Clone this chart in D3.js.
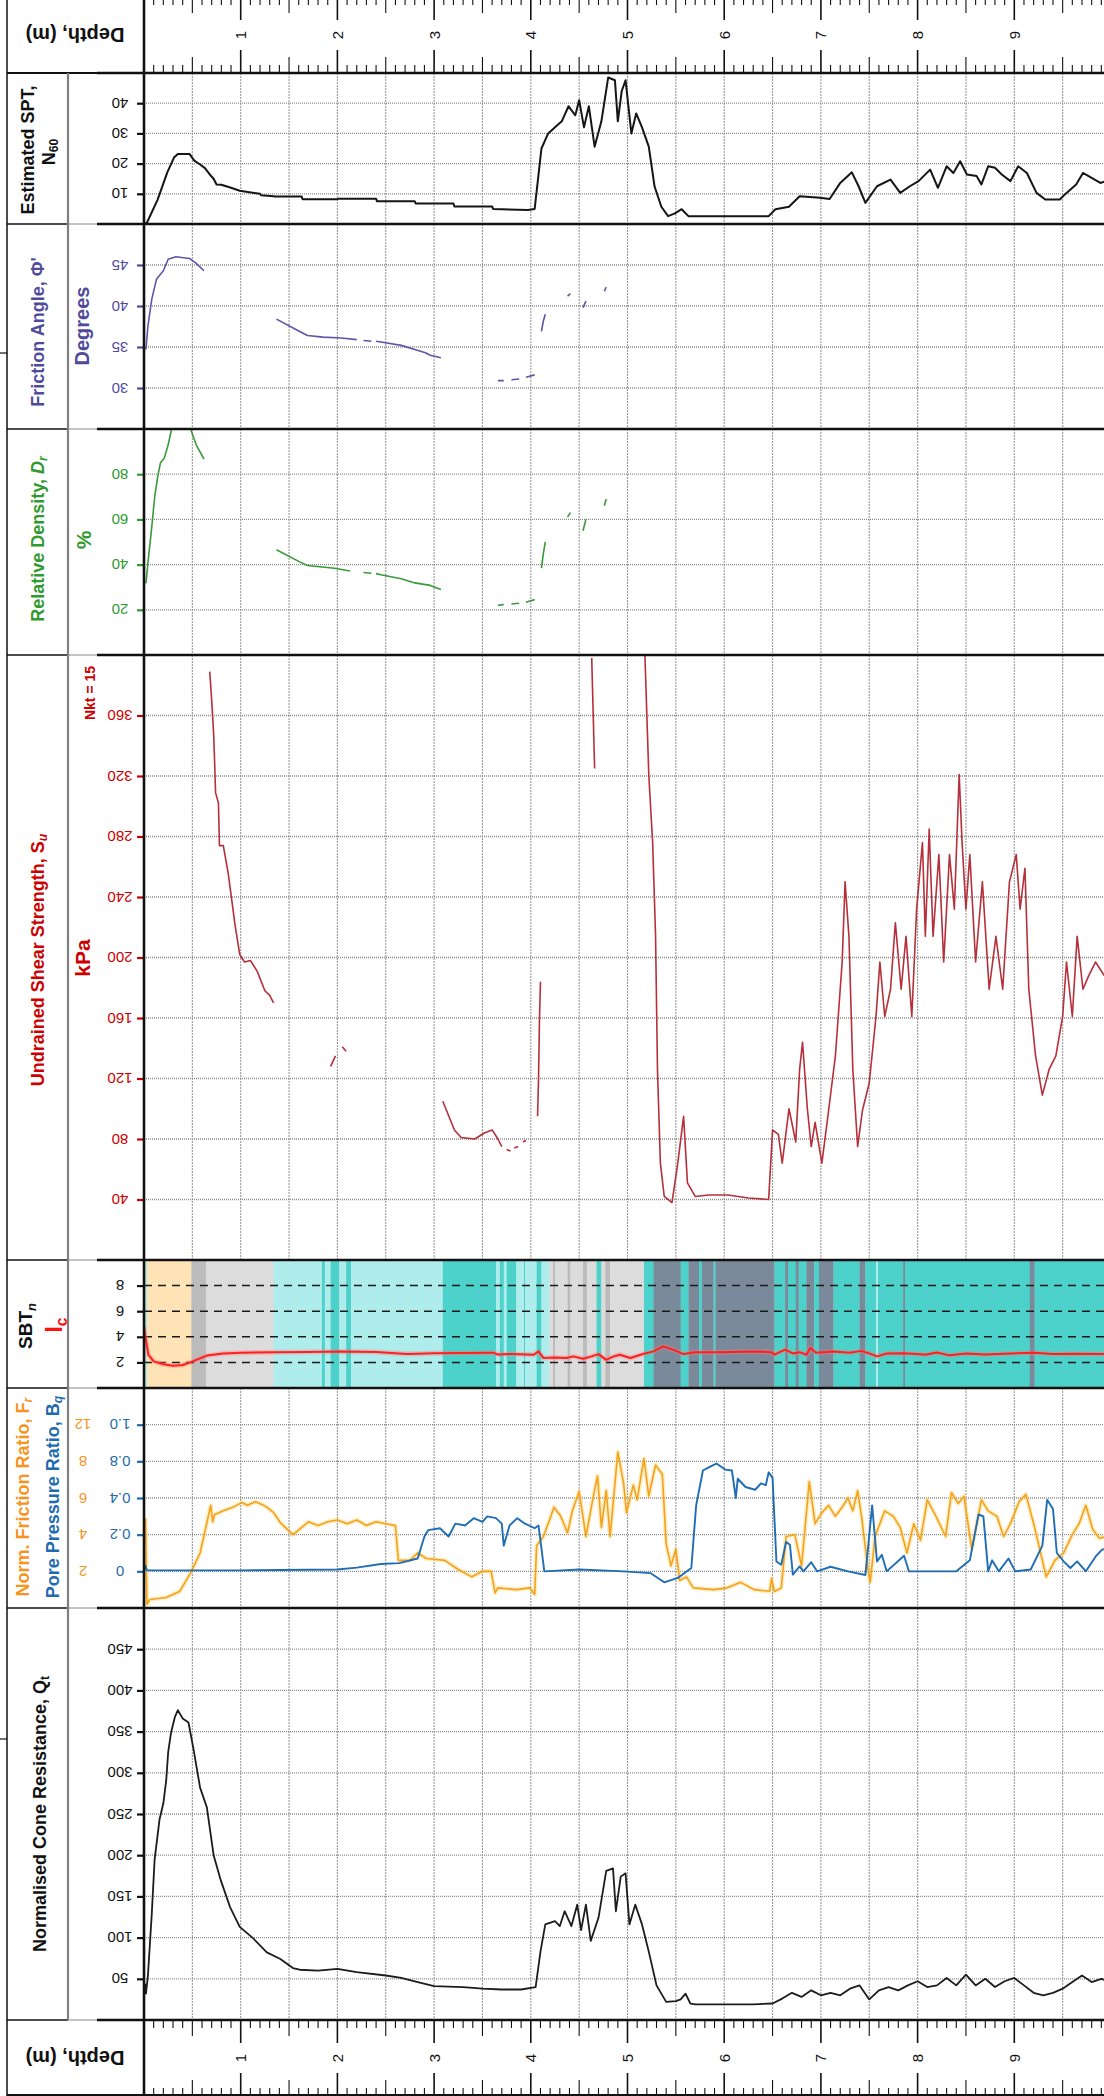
<!DOCTYPE html>
<html>
<head>
<meta charset="utf-8">
<script src="https://cdn.jsdelivr.net/npm/d3@7"></script>
<style>
  body { margin: 0; background: #fff; }
  svg { display: block; }
  text { font-family: "Liberation Sans", Arial, Helvetica, sans-serif; }
</style>
</head>
<body>
<svg id="chart" width="1104" height="2096"></svg>
<script>
// ---------------- CPT log data (depth in metres) ----------------

// Estimated SPT N60
const sptDepth = [0.0,0.03,0.14,0.24,0.31,0.35,0.47,0.52,0.58,0.63,0.68,0.72,0.75,0.8,0.9,0.99,1.2,1.21,1.34,1.35,1.63,1.64,2.0,2.01,2.4,2.41,2.8,2.81,3.2,3.21,3.6,3.61,3.97,4.04,4.11,4.18,4.25,4.32,4.39,4.46,4.5,4.55,4.6,4.66,4.73,4.8,4.87,4.9,4.94,4.98,5.04,5.09,5.15,5.22,5.28,5.35,5.42,5.49,5.56,5.63,5.7,6.46,6.53,6.67,6.78,6.99,7.09,7.2,7.32,7.39,7.46,7.58,7.72,7.82,7.92,8.01,8.13,8.21,8.3,8.37,8.44,8.51,8.61,8.66,8.73,8.8,8.87,8.96,9.04,9.13,9.23,9.32,9.47,9.54,9.64,9.71,9.8,9.89,9.95];
const sptN     = [0,0.4,8,17,22,23.2,23.2,21,19.7,18.5,16.4,15,13.1,13,12,11,10,9.5,9.2,9.1,9.1,8.2,8.2,8.4,8.4,7.5,7.5,6.8,6.8,5.8,5.8,5.0,4.6,5,25,30,32,34,39,36,41,32,39,25.6,34,48.5,47.6,34,44,47.6,30,36.6,32,25.6,12.4,5.7,2.6,3.5,4.9,2.6,2.6,2.6,4.9,5.7,9.2,8.7,8.3,13.6,17.1,12.5,7.0,12.5,14.7,10.3,12.5,14.2,18,12,19.1,16.9,20.8,16.4,15.9,13.1,19.1,18.6,16.4,14.2,19.1,16.9,10.3,8.1,8.1,10.3,13.1,16.9,15.3,13.6,14.2];

// Friction angle (degrees); null breaks the trace
const phiDepth = [0.02,0.04,0.08,0.13,0.2,0.25,0.33,0.47,0.54,0.62,0.63, 1.37,1.61,1.69,1.85,2.04,2.2,2.22, 2.27,2.35,2.37, 2.4,2.45,2.66,2.8,2.91,2.96,3.07,3.08, 3.66,3.72,3.73, 3.8,3.88,3.89, 3.95,4.04,4.05, 4.11,4.13,4.15,4.16, 4.38,4.41,4.42, 4.54,4.57,4.58, 4.76,4.78];
const phiDeg   = [34.7,37.5,40.8,43.3,44.3,45.7,46.0,45.8,45.2,44.3,null, 38.4,36.9,36.4,36.2,36.1,35.9,null, 35.8,35.7,null, 35.7,35.6,35.2,34.7,34.3,34.0,33.7,null, 30.9,30.9,null, 31.0,31.1,null, 31.3,31.6,null, 36.9,38.2,39.0,null, 41.2,41.5,null, 39.8,40.6,null, 41.8,42.3];

// Relative density (%)
const drDepth = [0.02,0.04,0.08,0.11,0.14,0.17,0.21,0.25,0.28,0.3,0.4, 0.48,0.49,0.54,0.62,0.63, 1.37,1.61,1.69,1.97,2.13,2.2, 2.27,2.35,2.37, 2.4,2.45,2.66,2.8,2.96,3.07,3.08, 3.66,3.72,3.73, 3.8,3.88,3.89, 3.95,4.04,4.05, 4.11,4.13,4.15,4.16, 4.38,4.41,4.42, 4.54,4.57,4.58, 4.76,4.78];
const drPct   = [31.7,40.5,56.5,69.7,78.5,85,87.2,93,99,103,null, 103,99,93,86.7,null, 46.6,41.2,39.6,38.4,37.2,null, 36.5,36.2,null, 36,35.5,33.7,31.9,30.8,29,null, 22,22.3,null, 22.6,22.9,null, 23.3,24.5,null, 38.4,45,50,null, 61,63,null, 55,60,null, 66,69];

// Undrained shear strength (kPa), Nkt = 15
const suDepth = [0.68,0.7,0.72,0.73,0.74,0.77,0.78,0.82,0.87,0.92,0.94,0.99,1.04,1.1,1.17,1.25,1.3,1.34,1.35, 1.93,1.98,1.99, 2.05,2.09,2.1, 3.09,3.21,3.28,3.42,3.52,3.6,3.66,3.7,3.71, 3.75,3.79,3.8, 3.83,3.87,3.88, 3.92,3.95,3.96, 4.07,4.08,4.09,4.1,4.11, 4.63,4.66,4.67, 5.18,5.22,5.26,5.29,5.31,5.34,5.38,5.46,5.52,5.58,5.62,5.7,5.84,6.04,6.25,6.46,6.5,6.56,6.6,6.67,6.74,6.78,6.81,6.86,6.9,6.94,7.01,7.08,7.15,7.22,7.25,7.29,7.33,7.38,7.43,7.5,7.57,7.61,7.66,7.72,7.77,7.83,7.88,7.94,7.99,8.05,8.08,8.12,8.16,8.22,8.27,8.33,8.38,8.43,8.46,8.5,8.54,8.6,8.67,8.74,8.81,8.88,8.95,9.02,9.06,9.11,9.15,9.22,9.29,9.36,9.43,9.5,9.54,9.6,9.65,9.71,9.77,9.84,9.93];
const suKPa   = [389,370,348,330,309,302,274,274,256,232,222,202,197,198,191,178,175,170,null, 128,135,null, 141,138,null, 105,86,81,80,84,86,80,75,null, 73,72,null, 74,75,null, 78,79,null, 95,120,160,184,null, 398,325,null, 400,321,276,215,126,64,42,38,64,95,51,42,43,43,41,40,86,83,64,100,78,126,144,100,75,91,64,99,135,197,250,214,126,75,99,117,161,197,161,179,223,179,214,161,232,276,214,285,214,268,197,268,232,321,276,232,268,197,250,179,214,179,250,268,232,259,179,135,109,126,135,161,197,161,214,179,188,197,188];

// Soil behaviour type zones: each band runs from its start depth to the next one
const sbtStart = [0.0,0.03,0.49,0.64,1.34,1.84,1.87,1.93,2.02,2.09,2.14,3.09,3.64,3.68,3.72,3.75,3.85,3.93,3.94,4.06,4.11,4.19,4.23,4.25,4.38,4.41,4.54,4.58,4.68,4.73,4.77,4.82,5.17,5.27,5.55,5.63,5.74,5.77,5.89,5.91,6.52,6.63,6.66,6.74,6.77,6.85,6.93,6.98,7.13,7.40,7.46,7.57,7.59,7.85,7.87,9.16,9.21,10.5];
const sbtZone  = [4,7,6,5,4,3,4,3,4,3,4,3,4,3,4,3,4,3,4,3,4,5,6,5,6,5,6,5,3,5,6,5,3,2,3,2,3,2,3,2,3,2,3,2,3,2,3,2,3,2,3,4,3,2,3,2,3];

// Soil behaviour type index Ic
const icDepth = [0.0,0.01,0.045,0.1,0.2,0.3,0.4,0.48,0.56,0.65,0.82,1.0,1.34,1.7,2.03,2.4,2.72,3.0,3.3,3.61,3.66,3.8,4.03,4.08,4.13,4.25,4.37,4.44,4.54,4.62,4.7,4.78,4.85,4.92,5.03,5.16,5.27,5.37,5.47,5.58,5.7,5.96,6.3,6.49,6.52,6.63,6.71,6.78,6.85,6.89,6.95,7.13,7.3,7.42,7.5,7.58,7.68,7.85,8.0,8.08,8.2,8.33,8.5,8.7,8.9,9.2,9.4,9.6,9.93];
const icVal   = [4.8,4.2,2.6,2.08,1.85,1.74,1.8,2.0,2.25,2.53,2.7,2.76,2.8,2.82,2.86,2.82,2.65,2.72,2.74,2.76,2.62,2.66,2.6,2.86,2.35,2.38,2.35,2.47,2.29,2.45,2.65,2.2,2.45,2.6,2.35,2.65,2.86,3.25,3.0,2.65,2.8,2.8,2.86,2.8,2.6,3.0,2.7,2.8,2.6,3.12,2.75,2.86,2.75,2.9,2.7,2.47,2.7,2.72,2.65,2.6,2.78,2.55,2.7,2.62,2.68,2.75,2.65,2.68,2.65];

// Normalised friction ratio Fr
const frDepth = [0.015,0.03,0.06,0.23,0.37,0.49,0.58,0.65,0.69,0.71,0.73,0.82,0.92,1.01,1.07,1.15,1.22,1.27,1.34,1.41,1.48,1.54,1.61,1.7,1.8,1.9,2.0,2.1,2.2,2.3,2.4,2.5,2.6,2.63,2.75,2.83,2.92,3.11,3.25,3.39,3.5,3.59,3.63,3.66,3.85,3.99,4.04,4.06,4.13,4.2,4.24,4.31,4.38,4.43,4.5,4.57,4.64,4.69,4.73,4.78,4.82,4.9,4.96,4.99,5.06,5.1,5.17,5.22,5.29,5.36,5.4,5.45,5.5,5.54,5.61,5.68,5.89,6.03,6.17,6.31,6.47,6.49,6.52,6.59,6.64,6.73,6.8,6.88,6.94,7.01,7.08,7.15,7.22,7.28,7.33,7.38,7.42,7.49,7.51,7.56,7.66,7.75,7.82,7.89,7.96,8.03,8.1,8.19,8.29,8.35,8.42,8.48,8.56,8.66,8.73,8.82,8.89,8.96,9.05,9.12,9.21,9.33,9.42,9.51,9.6,9.67,9.74,9.81,9.88,9.95];
const frVal   = [4.9,0.2,0.46,0.57,0.91,2.0,3.0,4.65,5.6,4.7,5.1,5.3,5.5,5.75,5.6,5.8,5.65,5.5,5.2,4.65,4.3,4.0,4.3,4.7,4.5,4.7,4.8,4.6,4.8,4.5,4.7,4.6,4.5,2.6,2.6,3.0,2.7,2.6,2.1,1.7,2.0,2.0,0.82,1.1,1.0,1.1,0.74,3.4,3.9,4.9,5.5,5.0,4.1,5.3,6.35,3.9,5.9,7.2,4.4,6.4,3.9,9.0,6.8,5.2,6.7,5.9,8.3,6.1,7.8,7.3,3.5,2.3,3.2,1.5,1.7,1.1,1.0,1.1,1.4,1.0,0.91,1.6,0.9,1.1,3.9,4.0,2.3,6.9,4.6,5.2,5.6,5.0,5.5,6.0,5.3,6.4,5.0,2.0,1.4,3.9,5.3,5.0,4.4,3.0,4.6,3.7,5.9,5.0,3.9,6.3,5.7,6.1,3.2,5.9,5.3,5.0,3.9,4.6,5.8,6.2,4.4,1.7,2.6,3.0,4.0,4.6,5.6,4.3,3.8,3.9];

// Pore pressure ratio Bq
const bqDepth = [0.0,0.015,0.03,1.0,2.0,2.2,2.45,2.64,2.83,2.9,2.94,3.06,3.15,3.22,3.32,3.41,3.5,3.55,3.64,3.7,3.72,3.78,3.86,3.94,4.04,4.08,4.14,4.5,4.96,5.24,5.38,5.52,5.66,5.71,5.78,5.85,5.92,6.01,6.08,6.12,6.14,6.22,6.32,6.38,6.43,6.46,6.5,6.54,6.59,6.64,6.68,6.71,6.78,6.82,6.9,6.96,7.1,7.28,7.46,7.53,7.58,7.63,7.68,7.86,7.91,8.12,8.4,8.54,8.63,8.68,8.73,8.77,8.84,8.94,9.01,9.17,9.29,9.34,9.4,9.44,9.51,9.58,9.65,9.74,9.84,9.91,9.95];
const bqVal   = [0.0,0.03,0.005,0.005,0.01,0.02,0.04,0.045,0.07,0.19,0.225,0.235,0.19,0.26,0.25,0.29,0.27,0.3,0.29,0.26,0.14,0.25,0.29,0.26,0.235,0.25,0.0,0.01,0.0,-0.01,-0.06,-0.036,0.018,0.36,0.70,0.74,0.776,0.71,0.70,0.4,0.61,0.52,0.49,0.56,0.54,0.68,0.62,0.054,0.036,0.16,0.145,-0.018,0.027,0.0,0.05,0.0,0.025,0.0,-0.02,0.36,0.054,0.09,0.0,0.085,0.0,0.0,0.0,0.06,0.31,0.3,0.0,0.06,0.0,0.07,0.0,0.01,0.14,0.39,0.34,0.1,0.054,0.018,0.054,0.0,0.08,0.12,0.12];

// Normalised cone resistance Qt
const qtDepth = [0.01,0.02,0.04,0.08,0.11,0.16,0.2,0.23,0.25,0.28,0.32,0.35,0.4,0.46,0.51,0.58,0.65,0.72,0.79,0.89,0.99,1.13,1.27,1.41,1.54,1.61,1.8,2.0,2.2,2.5,2.66,2.8,3.0,3.3,3.5,3.7,3.9,4.05,4.1,4.15,4.25,4.3,4.35,4.42,4.48,4.52,4.57,4.62,4.7,4.78,4.85,4.88,4.93,4.98,5.02,5.08,5.15,5.22,5.3,5.4,5.5,5.55,5.6,5.65,5.7,6.0,6.3,6.5,6.6,6.7,6.8,6.9,7.0,7.1,7.2,7.3,7.4,7.5,7.6,7.7,7.8,7.9,8.0,8.1,8.2,8.3,8.4,8.5,8.6,8.7,8.8,8.9,9.0,9.1,9.2,9.3,9.4,9.5,9.6,9.7,9.8,9.9,9.95];
const qtVal   = [44,32,53,128,195,243,263,291,325,349,368,376,366,361,330,282,258,200,171,137,113,99,82,74,63,61,60,62,58,54,51,47,41,40,38,37,37,40,83,116,120,114,132,114,140,109,140,96,124,181,184,132,174,178,116,140,116,83,42,22,23,25,32,20,19,19,19,20,26,33,28,36,30,33,30,38,42,25,36,40,36,42,47,40,42,51,42,55,42,50,40,47,51,42,33,30,33,38,46,54,46,50,48];

// Axis tick values
const depthMajor = [1,2,3,4,5,6,7,8,9];
const sptTicks = [10,20,30,40];
const phiTicks = [30,35,40,45];
const drTicks  = [20,40,60,80];
const suTicks  = [40,80,120,160,200,240,280,320,360];
const sbtTicks = [2,4,6,8];
const bqTicks  = [0,0.2,0.4,0.8,1.0];
const frTicks  = [2,4,6,8,12];
const qtTicks  = [50,100,150,200,250,300,350,400,450];

// ---------------- drawing ----------------
const W = 1104, H = 2096;
const PLOT_L = 144, COL1 = 7, COL2 = 68;
const svg = d3.select('#chart');
const defs = svg.append('defs');

const x = d3.scaleLinear().domain([0, 10]).range([PLOT_L, PLOT_L + 967]);

const C = {
  black: '#111', purple: '#4f4a9c', green: '#2f9a2f', red: '#cc0000',
  orange: '#f7941d', blue: '#1f6bb0', grid: '#8c8c8c'
};
const TITLE = 18, TICK = 15;

const zoneColor = {2: '#7b8a9a', 3: '#4cd2ca', 4: '#afecec', 5: '#dcdcdc', 6: '#bcbcbc', 7: '#fde3b6'};

const zip = (a, b) => a.map((d, i) => [d, b[i]]);

function clipFor(id, top, bottom) {
  defs.append('clipPath').attr('id', id)
    .append('rect').attr('x', PLOT_L).attr('y', top).attr('width', W - PLOT_L).attr('height', bottom - top);
  return `url(#${id})`;
}

function grid(g, y, top, bottom, ticks, vertical = true) {
  if (vertical) {
    g.selectAll('line.vg').data(d3.range(0.5, 10, 0.5)).join('line').attr('class', 'vg')
      .attr('x1', d => x(d)).attr('x2', d => x(d)).attr('y1', top).attr('y2', bottom)
      .attr('stroke', '#9a9a9a').attr('stroke-width', 1.1).attr('stroke-dasharray', '2,1');
  }
  g.selectAll('line.hg').data(ticks).join('line').attr('class', 'hg')
    .attr('x1', PLOT_L).attr('x2', W).attr('y1', d => y(d)).attr('y2', d => y(d))
    .attr('stroke', C.grid).attr('stroke-width', 1.3).attr('stroke-dasharray', '1,1');
}

function valueAxis(y, ticks, color, labelX, fmt) {
  const ax = svg.append('g').attr('transform', `translate(${PLOT_L},0)`)
    .call(d3.axisLeft(y).tickValues(ticks).tickSize(7).tickFormat(''));
  ax.select('.domain').remove();
  ax.selectAll('.tick line').attr('stroke', color).attr('stroke-width', 2.2);
  if (labelX != null) {
    svg.append('g').selectAll('text').data(ticks).join('text')
      .attr('transform', d => `translate(${labelX},${y(d)}) rotate(180)`)
      .attr('text-anchor', 'middle').attr('dominant-baseline', 'central')
      .attr('font-size', TICK).attr('fill', color)
      .text(fmt || (d => d));
  }
}

function vtext(xp, yp, parts, size, color, weight = 'bold') {
  const t = svg.append('text')
    .attr('transform', `translate(${xp},${yp}) rotate(-90)`)
    .attr('text-anchor', 'middle').attr('dominant-baseline', 'central')
    .attr('font-size', size).attr('font-weight', weight).attr('fill', color);
  parts.forEach(p => {
    if (typeof p === 'string') t.append('tspan').text(p);
    else {
      const s = t.append('tspan').text(p.t);
      if (p.sub) s.attr('font-size', size * 0.68).attr('dy', size * 0.3);
      if (p.it) s.attr('font-style', 'italic');
    }
  });
  return t;
}

function trace(points, y, clip, color, width, halo) {
  const line = d3.line().defined(d => d[1] != null).x(d => x(d[0])).y(d => y(d[1]));
  const g = svg.append('g').attr('clip-path', clip);
  if (halo) {
    g.append('path').datum(points).attr('d', line).attr('fill', 'none')
      .attr('stroke', halo).attr('stroke-width', width + 3).attr('stroke-linejoin', 'round');
  }
  g.append('path').datum(points).attr('d', line).attr('fill', 'none')
    .attr('stroke', color).attr('stroke-width', width).attr('stroke-linejoin', 'round');
}

// ---- panel geometry
const P = {
  spt: [73, 224], phi: [224, 429], dr: [429, 655], su: [655, 1260],
  sbt: [1260, 1388], fb: [1388, 1608], qt: [1608, 2020]
};

// ---- SPT
{
  const [t, b] = P.spt;
  const y = d3.scaleLinear().domain([0, 50]).range([b, t]);
  grid(svg.append('g'), y, t, b, sptTicks);
  valueAxis(y, sptTicks, C.black, 120);
  trace(zip(sptDepth, sptN), y, clipFor('c-spt', t, b), '#151515', 2);
  vtext(28, 150, ['Estimated SPT,'], TITLE, '#111');
  vtext(49, 152, ['N', {t: '60', sub: true}], TITLE, '#111');
}

// ---- Friction angle
{
  const [t, b] = P.phi;
  const y = d3.scaleLinear().domain([25, 50]).range([b, t]);
  grid(svg.append('g'), y, t, b, phiTicks);
  valueAxis(y, phiTicks, C.purple, 120);
  trace(zip(phiDepth, phiDeg), y, clipFor('c-phi', t, b), '#5d55a8', 1.6);
  vtext(38, 332, ["Friction Angle, Φ'"], TITLE, C.purple);
  vtext(82, 326, ['Degrees'], 20, C.purple);
}

// ---- Relative density
{
  const [t, b] = P.dr;
  const y = d3.scaleLinear().domain([0, 100]).range([b, t]);
  grid(svg.append('g'), y, t, b, drTicks);
  valueAxis(y, drTicks, C.green, 120);
  trace(zip(drDepth, drPct), y, clipFor('c-dr', t, b), '#3a9a3a', 1.6);
  vtext(38, 539, ['Relative Density, ', {t: 'D', it: true}, {t: 'r', sub: true, it: true}], TITLE, C.green);
  vtext(83, 540, ['%'], 21, C.green);
}

// ---- Undrained shear strength
{
  const [t, b] = P.su;
  const y = d3.scaleLinear().domain([0, 400]).range([b, t]);
  grid(svg.append('g'), y, t, b, suTicks);
  valueAxis(y, suTicks, C.red, 120);
  trace(zip(suDepth, suKPa), y, clipFor('c-su', t, b), '#b5303a', 1.6);
  vtext(38, 960, ['Undrained Shear Strength, S', {t: 'u', sub: true, it: true}], TITLE, C.red);
  vtext(82, 958, ['kPa'], 21, C.red);
  vtext(90, 693, ['Nkt = 15'], 14, C.red);
}

// ---- SBTn / Ic
{
  const [t, b] = P.sbt;
  const y = d3.scaleLinear().domain([0, 10]).range([b, t]);
  const clip = clipFor('c-sbt', t, b);
  const bands = sbtZone.map((z, i) => ({z, a: sbtStart[i], b: sbtStart[i + 1]}));
  svg.append('g').attr('clip-path', clip).selectAll('rect').data(bands).join('rect')
    .attr('x', d => x(d.a)).attr('width', d => x(d.b) - x(d.a) + 0.3)
    .attr('y', t).attr('height', b - t).attr('fill', d => zoneColor[d.z]);
  svg.append('g').selectAll('line').data(sbtTicks).join('line')
    .attr('x1', PLOT_L).attr('x2', W).attr('y1', d => y(d)).attr('y2', d => y(d))
    .attr('stroke', '#1a1a1a').attr('stroke-width', 1.5).attr('stroke-dasharray', '8,6');
  valueAxis(y, sbtTicks, C.black, 120);
  trace(zip(icDepth, icVal), y, clip, '#ff1f1f', 2, 'rgba(255,120,120,0.35)');
  vtext(25, 1326, ['SBT', {t: 'n', sub: true, it: true}], 19, '#111');
  vtext(54, 1325, ['I', {t: 'c', sub: true}], 23, '#ff1010');
}

// ---- Fr / Bq (shared stretched scale)
{
  const [t, b] = P.fb;
  const step = (b - t) / 6;
  const yB = d3.scaleLinear().domain([-0.2, 0, 0.2, 0.4, 0.8, 1.0, 1.2]).range(d3.range(7).map(i => b - i * step));
  const yF = d3.scaleLinear().domain([0, 2, 4, 6, 8, 12, 16]).range(d3.range(7).map(i => b - i * step));
  grid(svg.append('g'), yB, t, b, bqTicks);
  valueAxis(yB, bqTicks, C.blue, 120, d => d === 0 ? '0' : d.toFixed(1));
  svg.append('g').selectAll('text').data(frTicks).join('text')
    .attr('transform', d => `translate(83,${yF(d)}) rotate(180)`)
    .attr('text-anchor', 'middle').attr('dominant-baseline', 'central')
    .attr('font-size', TICK).attr('fill', C.orange).text(d => d);
  const clip = clipFor('c-fb', t, b);
  trace(zip(frDepth, frVal), yF, clip, '#f5a11c', 1.6, 'rgba(250,205,90,0.35)');
  trace(zip(bqDepth, bqVal), yB, clip, '#1f6db5', 1.9);
  vtext(23, 1497, ['Norm. Friction Ratio, F', {t: 'r', sub: true, it: true}], TITLE, C.orange);
  vtext(53, 1497, ['Pore Pressure Ratio, B', {t: 'q', sub: true, it: true}], TITLE, C.blue);
}

// ---- Qt
{
  const [t, b] = P.qt;
  const y = d3.scaleLinear().domain([0, 500]).range([b, t]);
  grid(svg.append('g'), y, t, b, qtTicks);
  valueAxis(y, qtTicks, C.black, 120);
  trace(zip(qtDepth, qtVal), y, clipFor('c-qt', t, b), '#1c1c1c', 1.8);
  vtext(40, 1814, ['Normalised Cone Resistance, Q', {t: 't', sub: true}], TITLE, '#111');
}

// ---- depth axes (top and bottom strips)
function depthStrip(axisY, dir) {
  const ticks = d3.range(1, 100).map(i => i / 10);
  const len = d => (Math.abs(d - Math.round(d)) < 1e-6 ? 23 : Math.abs(d * 2 - Math.round(d * 2)) < 1e-6 ? 16 : 8);
  svg.append('g').selectAll('line').data(ticks).join('line')
    .attr('x1', d => x(d)).attr('x2', d => x(d))
    .attr('y1', axisY).attr('y2', d => axisY + dir * len(d))
    .attr('stroke', '#111').attr('stroke-width', d => len(d) === 23 ? 1.6 : 1.1);
}
depthStrip(-3, 1); depthStrip(73, -1);
depthStrip(2020, 1); depthStrip(2096, -1);
[35, 2058].forEach(ly => {
  svg.append('g').selectAll('text').data(depthMajor).join('text')
    .attr('transform', d => `translate(${x(d)},${ly}) rotate(-90)`)
    .attr('text-anchor', 'middle').attr('dominant-baseline', 'central')
    .attr('font-size', TICK).attr('fill', '#111').text(d => d);
  svg.append('text').attr('transform', `translate(75,${ly}) rotate(180)`)
    .attr('text-anchor', 'middle').attr('dominant-baseline', 'central')
    .attr('font-size', 20).attr('font-weight', 'bold').attr('fill', '#111').text('Depth, (m)');
});

// ---- frame lines
const seps = [73, 224, 429, 655, 1260, 1388, 1608, 2020];
seps.forEach(sy => {
  svg.append('line').attr('x1', COL1).attr('x2', COL2).attr('y1', sy).attr('y2', sy).attr('stroke', '#111').attr('stroke-width', 1.3);
  svg.append('line').attr('x1', COL2).attr('x2', 97).attr('y1', sy).attr('y2', sy).attr('stroke', '#888').attr('stroke-width', 1);
  svg.append('line').attr('x1', 97).attr('x2', W).attr('y1', sy).attr('y2', sy).attr('stroke', '#111').attr('stroke-width', 2.4);
});
svg.append('line').attr('x1', COL1).attr('x2', W).attr('y1', 73).attr('y2', 73).attr('stroke', '#111').attr('stroke-width', 2);
svg.append('line').attr('x1', COL1).attr('x2', W).attr('y1', 2095).attr('y2', 2095).attr('stroke', '#111').attr('stroke-width', 2);
svg.append('line').attr('x1', COL1).attr('x2', COL1).attr('y1', 0).attr('y2', H).attr('stroke', '#111').attr('stroke-width', 1.5);
svg.append('line').attr('x1', COL2).attr('x2', COL2).attr('y1', 73).attr('y2', 2020).attr('stroke', '#808080').attr('stroke-width', 2.2);
svg.append('line').attr('x1', PLOT_L).attr('x2', PLOT_L).attr('y1', 0).attr('y2', H).attr('stroke', '#111').attr('stroke-width', 2.6);
// small ticks on the outer left edge
[353, 1739].forEach(sy => svg.append('line').attr('x1', 0).attr('x2', COL1).attr('y1', sy).attr('y2', sy).attr('stroke', '#111').attr('stroke-width', 1.2));
</script>
</body>
</html>
